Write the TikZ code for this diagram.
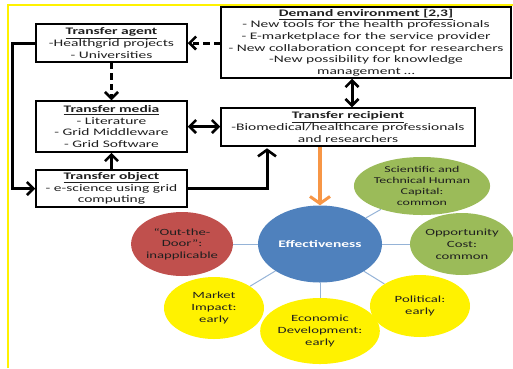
\documentclass[tikz,border=0pt]{standalone}
\usepackage{fontspec}
\setmainfont{Carlito}[FakeStretch=1.55]
\usetikzlibrary{arrows.meta,shapes.geometric,shadows,backgrounds}
\definecolor{effblue}{HTML}{4F81BD}
\definecolor{capgreen}{HTML}{9BBB59}
\definecolor{doorred}{HTML}{C0504D}
\definecolor{linkblue}{HTML}{95B3D7}
\definecolor{orangearrow}{HTML}{F79646}
\definecolor{txt}{HTML}{1F1F1F}
\begin{document}
\begin{tikzpicture}[x=1pt,y=-1pt,
  infobox/.style={draw=black,line width=1.5pt,fill=white,rectangle,inner sep=0pt,
    align=center,text=txt,font=\fontsize{10}{11.6}\selectfont,
    drop shadow={shadow xshift=1.2pt,shadow yshift=-1.2pt,fill=black!45,opacity=0.6}},
  bubble/.style={ellipse,inner sep=0pt,align=center,text=txt,
    font=\fontsize{9}{11.2}\selectfont},
  conn/.style={line width=3pt,black},
  barb/.tip={Straight Barb[length=6.5pt,width=13pt,line width=2.6pt]},
  widebarb/.tip={Straight Barb[length=6.5pt,width=18pt,line width=2.6pt]},
  tip/.style={-barb},
  bitip/.style={barb-barb},
  dashy/.style={dash pattern=on 6.5pt off 4pt},
  link/.style={linkblue,line width=1pt}]
\useasboundingbox (0,0) rectangle (513,368);
\draw[yellow,line width=2.2pt] (8,368) -- (8,5) -- (513,5);

% boxes
\node[infobox,minimum width=151pt,minimum height=38pt] (agent) at (111.5,43)
  {\textbf{\underline{Transfer agent}}\\-Healthgrid projects\\- Universities};
\node[infobox,minimum width=151pt,minimum height=51pt] (media) at (111.5,126.5)
  {\textbf{\underline{Transfer media}}\\- Literature\\- Grid Middleware\\- Grid Software};
\node[infobox,minimum width=151pt,minimum height=37pt] (object) at (111.5,188.5)
  {\textbf{\underline{Transfer object}}\\- e-science using grid\\computing};
\node[infobox,minimum width=290pt,minimum height=71pt] (demand) at (366,42.5)
  {\textbf{\underline{Demand environment [2,3]}}\\- New tools for the health professionals\\- E-marketplace for the service provider\\- New collaboration concept for researchers\\-New possibility for knowledge\\management \dots};
\node[infobox,minimum width=254pt,minimum height=38pt] (recipient) at (348,127)
  {\textbf{\underline{Transfer recipient}}\\-Biomedical/healthcare professionals\\and researchers};

% bubbles
\node[bubble,fill=effblue,minimum width=124pt,minimum height=77pt,text=white,
  font=\bfseries\fontsize{10}{11}\selectfont] (eff) at (320,244) {Effectiveness};
\node[bubble,fill=capgreen,minimum width=100pt,minimum height=58pt] (cap) at (422,186)
  {Scientific and\\Technical Human\\Capital:\\common};
\node[bubble,fill=capgreen,minimum width=100pt,minimum height=62pt,
  font=\fontsize{9.5}{12}\selectfont] (opp) at (462,244)
  {Opportunity\\Cost:\\common};
\node[bubble,fill=yellow,minimum width=100pt,minimum height=62pt,
  font=\fontsize{9.5}{12}\selectfont] (pol) at (420,306) {Political:\\early};
\node[bubble,fill=yellow,minimum width=100pt,minimum height=66pt,
  font=\fontsize{9.5}{12}\selectfont] (eco) at (320,331) {Economic\\Development:\\early};
\node[bubble,fill=yellow,minimum width=100pt,minimum height=62pt,
  font=\fontsize{9.5}{12}\selectfont] (mkt) at (214,308) {Market\\Impact:\\early};
\node[bubble,fill=doorred,minimum width=100pt,minimum height=64pt,
  font=\fontsize{9.5}{11.6}\selectfont] (door) at (182,244) {“Out-the-\\Door”:\\inapplicable};

\begin{scope}[on background layer]
  \foreach \n in {cap,opp,pol,eco,mkt,door} \draw[link] (eff) -- (\n);
\end{scope}

% connectors
\draw[conn,dashy,tip] (agent.east -| demand.west) -- (agent.east);
\draw[conn,dashy,tip] (agent.south) -- (media.north);
\draw[conn,bitip] (media.east) -- (media.east -| recipient.west);
\draw[conn,bitip] ([xshift=4pt]recipient.north) -- ([xshift=4pt]recipient.north |- demand.south);
\draw[conn,tip] (object.north) -- (media.south);
\draw[conn,tip] (agent.west) -- ++(-23,0) |- (object.west);
\draw[conn,-widebarb] (object.east) -| ([xshift=-81pt,yshift=-1.5pt]recipient.south);
\draw[orangearrow,line width=3.5pt,-{Straight Barb[length=7pt,width=20pt,line width=3pt]}]
  (eff.north |- recipient.south) -- (eff.north);
\end{tikzpicture}
\end{document}
